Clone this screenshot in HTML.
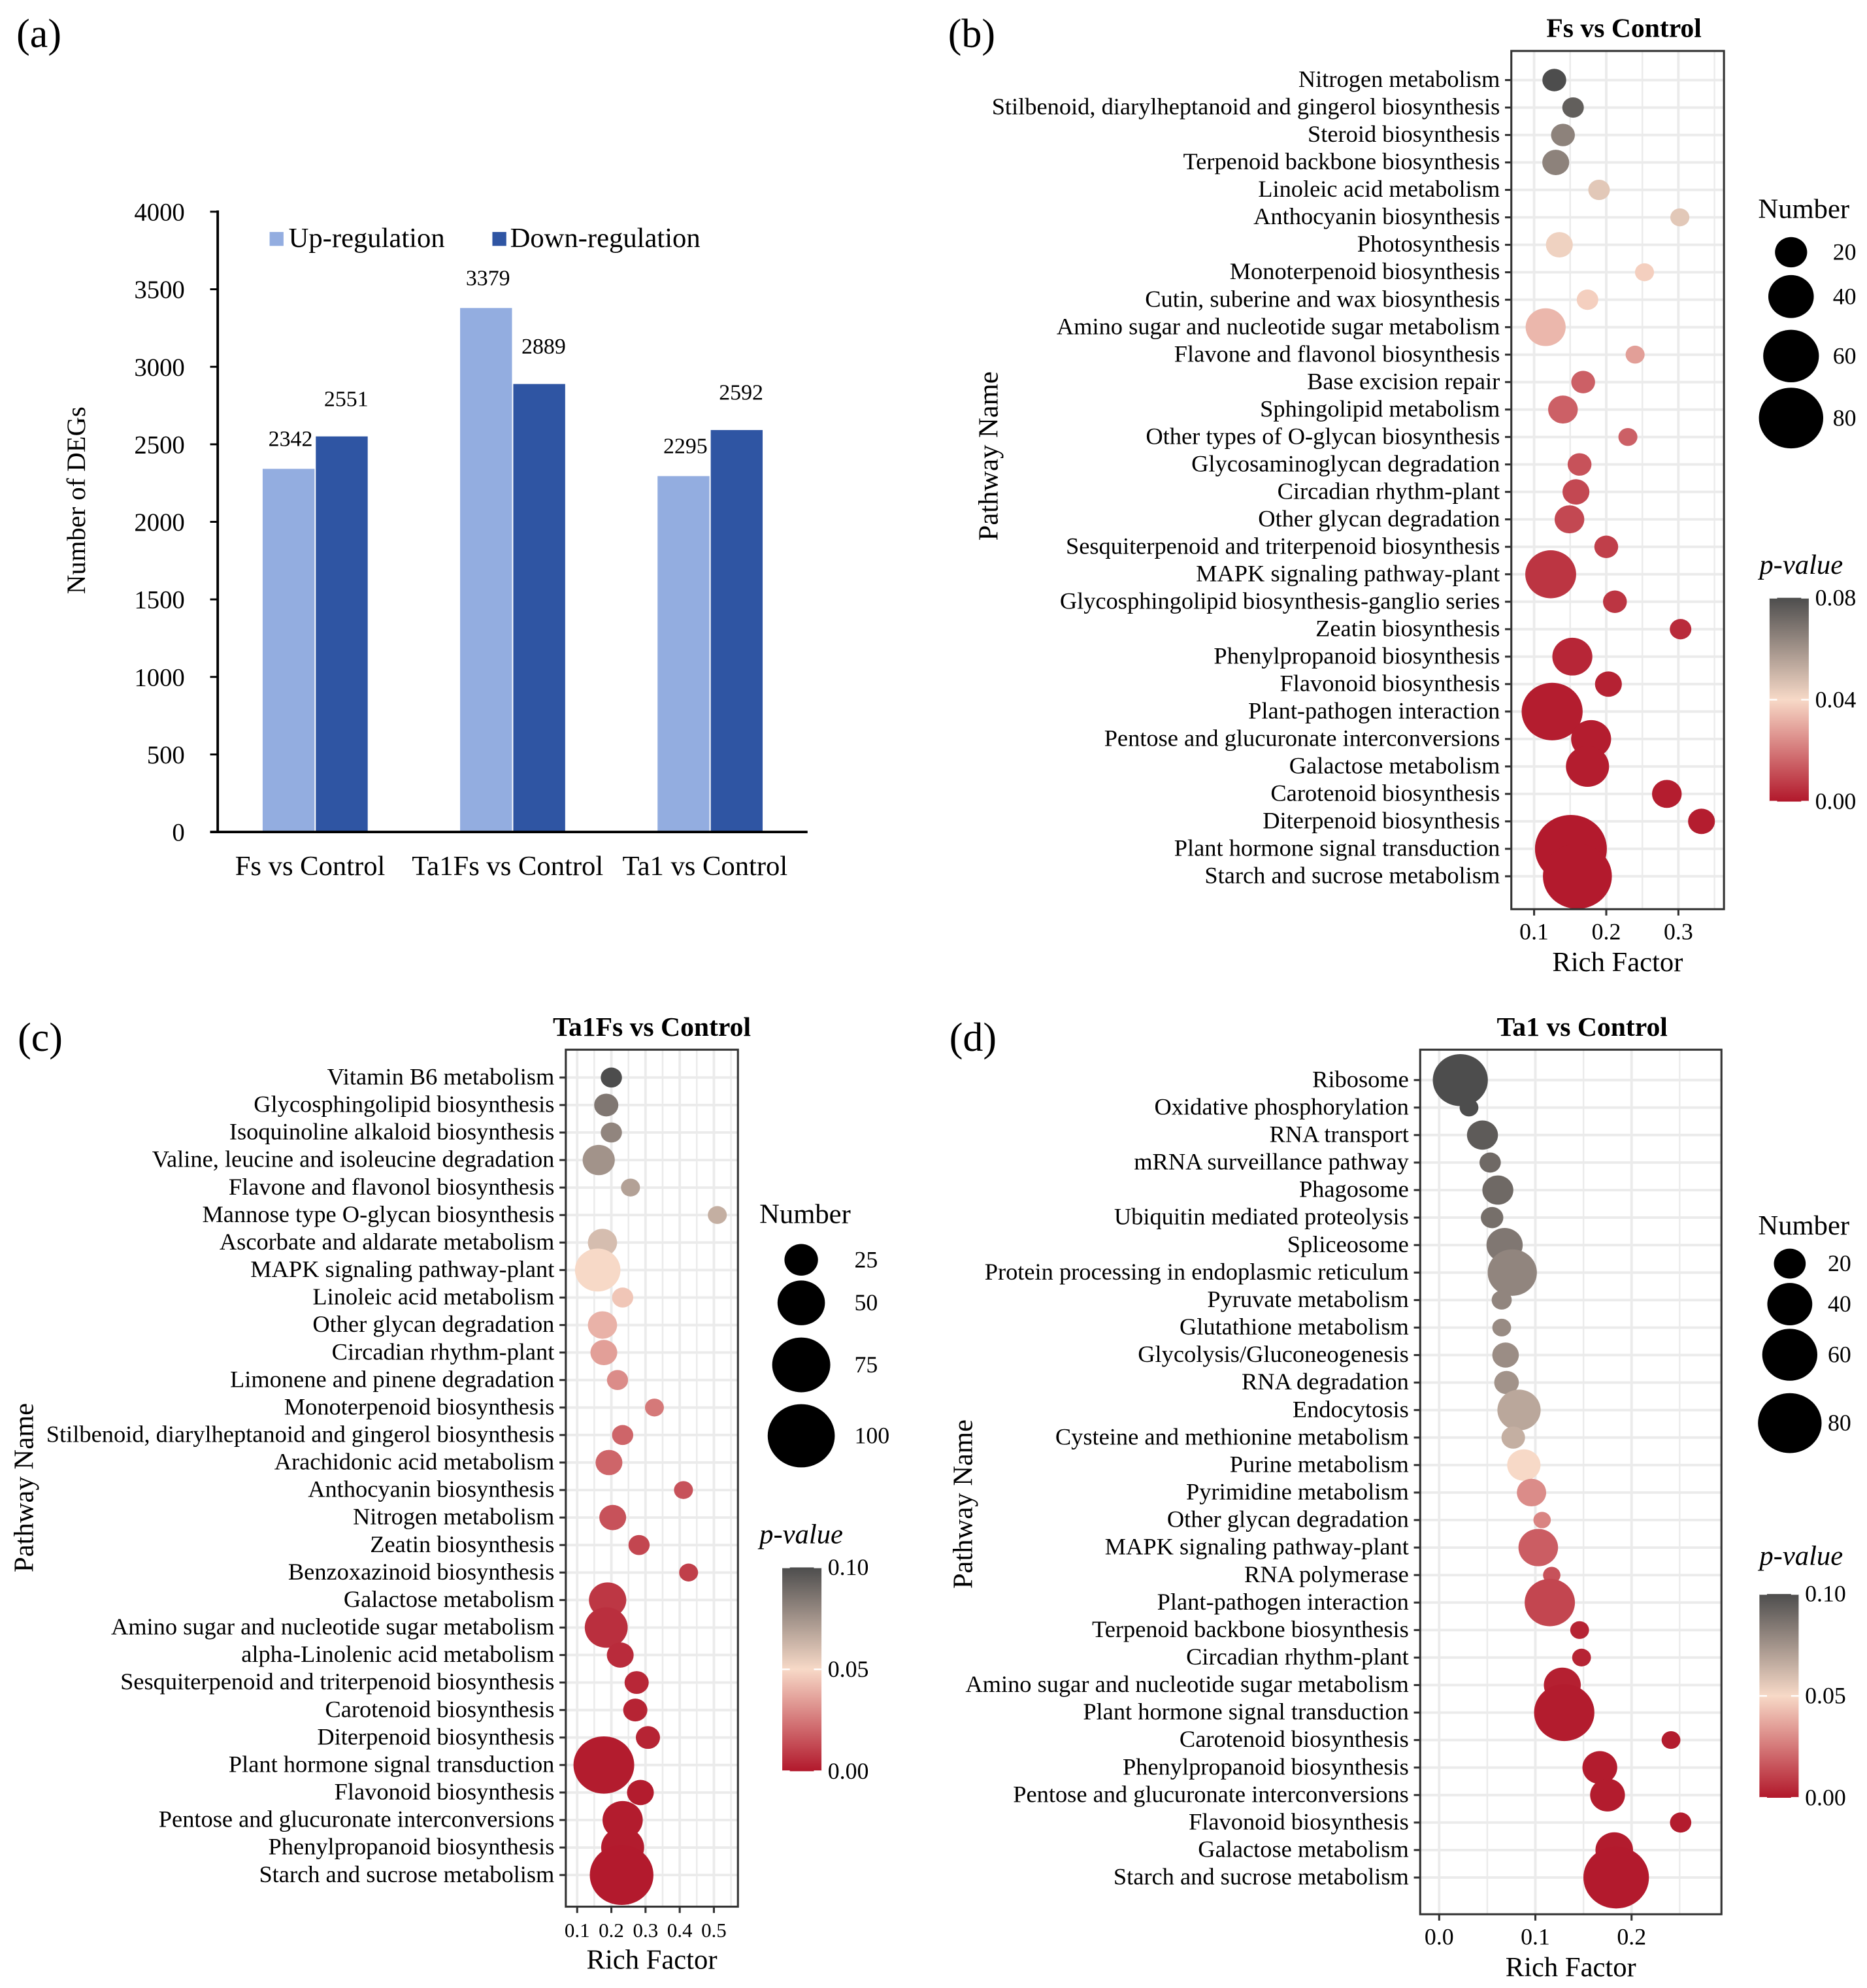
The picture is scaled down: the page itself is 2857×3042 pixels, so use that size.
<!DOCTYPE html>
<html><head><meta charset="utf-8"><style>
html,body{margin:0;padding:0;background:#fff;}
svg{display:block;font-family:"Liberation Serif","Times New Roman",serif;}
</style></head><body>
<svg id="fig" width="2857" height="3042" viewBox="0 0 1475 1570" xmlns="http://www.w3.org/2000/svg">
<rect x="0" y="0" width="1475" height="1570" fill="#fff"/>
<g id="pa"></g>
<g id="pb"></g>
<g id="pc"></g>
<g id="pd"></g>
</svg>
<script>
// ---------- Panel (a) data ----------
const aCategories = ["Fs vs Control", "Ta1Fs vs Control", "Ta1  vs Control"];
const aUp = [2342, 3379, 2295];
const aDown = [2551, 2889, 2592];
const aTicks = [0, 500, 1000, 1500, 2000, 2500, 3000, 3500, 4000];

// ---------- Panel (b) data ----------
const bNames = ["Nitrogen metabolism","Stilbenoid, diarylheptanoid and gingerol biosynthesis","Steroid biosynthesis","Terpenoid backbone biosynthesis","Linoleic acid metabolism","Anthocyanin biosynthesis","Photosynthesis","Monoterpenoid biosynthesis","Cutin, suberine and wax biosynthesis","Amino sugar and nucleotide sugar metabolism","Flavone and flavonol biosynthesis","Base excision repair","Sphingolipid metabolism","Other types of O-glycan biosynthesis","Glycosaminoglycan degradation","Circadian rhythm-plant","Other glycan degradation","Sesquiterpenoid and triterpenoid biosynthesis","MAPK signaling pathway-plant","Glycosphingolipid biosynthesis-ganglio series","Zeatin biosynthesis","Phenylpropanoid biosynthesis","Flavonoid biosynthesis","Plant-pathogen interaction","Pentose and glucuronate interconversions","Galactose metabolism","Carotenoid biosynthesis","Diterpenoid biosynthesis","Plant hormone signal transduction","Starch and sucrose metabolism"];
const bRich = [0.128,0.154,0.140,0.130,0.190,0.302,0.135,0.253,0.174,0.116,0.240,0.168,0.140,0.230,0.163,0.158,0.149,0.200,0.123,0.212,0.303,0.153,0.203,0.125,0.179,0.174,0.284,0.332,0.151,0.160];
const bCount = [11,9,11,14,9,7,14,7,9,31,7,11,17,7,11,14,17,11,50,11,9,31,14,72,31,36,17,14,100,92];
const bP = [0.080,0.075,0.065,0.065,0.045,0.045,0.042,0.038,0.038,0.033,0.028,0.015,0.015,0.015,0.012,0.010,0.010,0.008,0.006,0.006,0.004,0.003,0.002,0.001,0.001,0.001,0.001,0.001,0.0005,0.0005];
const bXTicks = [0.1, 0.2, 0.3];
const bSizeLegend = [20, 40, 60, 80];
const bColorTicks = [0.00, 0.04, 0.08];

// ---------- Panel (c) data ----------
const cNames = ["Vitamin B6 metabolism","Glycosphingolipid biosynthesis","Isoquinoline alkaloid biosynthesis","Valine, leucine and isoleucine degradation","Flavone and flavonol biosynthesis","Mannose type O-glycan biosynthesis","Ascorbate and aldarate metabolism","MAPK signaling pathway-plant","Linoleic acid metabolism","Other glycan degradation","Circadian rhythm-plant","Limonene and pinene degradation","Monoterpenoid biosynthesis","Stilbenoid, diarylheptanoid and gingerol biosynthesis","Arachidonic acid metabolism","Anthocyanin biosynthesis","Nitrogen metabolism","Zeatin biosynthesis","Benzoxazinoid biosynthesis","Galactose metabolism","Amino sugar and nucleotide sugar metabolism","alpha-Linolenic acid metabolism","Sesquiterpenoid and triterpenoid biosynthesis","Carotenoid biosynthesis","Diterpenoid biosynthesis","Plant hormone signal transduction","Flavonoid biosynthesis","Pentose and glucuronate interconversions","Phenylpropanoid biosynthesis","Starch and sucrose metabolism"];
const cRich = [0.200,0.185,0.200,0.163,0.256,0.510,0.174,0.160,0.233,0.174,0.178,0.218,0.326,0.233,0.193,0.411,0.204,0.281,0.426,0.189,0.185,0.226,0.274,0.270,0.307,0.178,0.285,0.233,0.233,0.230];
const cCount = [10,13,10,23,8,8,19,46,10,19,16,10,8,10,16,8,16,10,8,31,41,16,13,13,13,82,16,36,41,90];
const cP = [0.100,0.085,0.080,0.075,0.070,0.065,0.060,0.050,0.045,0.040,0.035,0.030,0.025,0.020,0.020,0.015,0.015,0.012,0.010,0.008,0.006,0.005,0.004,0.003,0.003,0.001,0.001,0.001,0.001,0.0005];
const cXTicks = [0.1, 0.2, 0.3, 0.4, 0.5];
const cSizeLegend = [25, 50, 75, 100];
const cColorTicks = [0.00, 0.05, 0.10];

// ---------- Panel (d) data ----------
const dNames = ["Ribosome","Oxidative phosphorylation","RNA transport","mRNA surveillance pathway","Phagosome","Ubiquitin mediated proteolysis","Spliceosome","Protein processing in endoplasmic reticulum","Pyruvate metabolism","Glutathione metabolism","Glycolysis/Gluconeogenesis","RNA degradation","Endocytosis","Cysteine and methionine metabolism","Purine metabolism","Pyrimidine metabolism","Other glycan degradation","MAPK signaling pathway-plant","RNA polymerase","Plant-pathogen interaction","Terpenoid backbone biosynthesis","Circadian rhythm-plant","Amino sugar and nucleotide sugar metabolism","Plant hormone signal transduction","Carotenoid biosynthesis","Phenylpropanoid biosynthesis","Pentose and glucuronate interconversions","Flavonoid biosynthesis","Galactose metabolism","Starch and sucrose metabolism"];
const dRich = [0.022,0.031,0.045,0.053,0.061,0.055,0.068,0.076,0.065,0.065,0.069,0.070,0.083,0.077,0.088,0.096,0.107,0.103,0.117,0.115,0.146,0.148,0.128,0.130,0.241,0.167,0.175,0.251,0.182,0.184];
const dCount = [60,7,19,9,19,10,26,48,8,7,14,12,37,11,22,17,6,31,6,50,7,7,27,72,7,24,24,9,28,85];
const dP = [0.100,0.100,0.095,0.090,0.090,0.088,0.085,0.080,0.080,0.078,0.077,0.075,0.068,0.065,0.050,0.030,0.028,0.018,0.015,0.012,0.003,0.003,0.002,0.001,0.001,0.001,0.001,0.001,0.001,0.0005];
const dXTicks = [0.0, 0.1, 0.2];
const dSizeLegend = [20, 40, 60, 80];
const dColorTicks = [0.00, 0.05, 0.10];

const NS = "http://www.w3.org/2000/svg";
function mk(parent, tag, attrs, text) {
  const e = document.createElementNS(NS, tag);
  for (const k in attrs) e.setAttribute(k, attrs[k]);
  if (text !== undefined) e.textContent = text;
  parent.appendChild(e);
  return e;
}
function lerp(a, b, t) { return a + (b - a) * t; }
function hex(c) { return [parseInt(c.slice(1,3),16), parseInt(c.slice(3,5),16), parseInt(c.slice(5,7),16)]; }
const cLow = hex("#b2182b"), cMid = hex("#f7d9c7"), cHigh = hex("#4d4d4d");
function pColor(p, max) {
  let t = Math.max(0, Math.min(1, p / max));
  let a, b, u;
  if (t < 0.5) { a = cLow; b = cMid; u = t / 0.5; } else { a = cMid; b = cHigh; u = (t - 0.5) / 0.5; }
  return "rgb(" + [0,1,2].map(i => Math.round(lerp(a[i], b[i], u))).join(",") + ")";
}

// ---------- Panel (a) ----------
(function () {
  const g = document.getElementById("pa");
  const x0 = 172, x1 = 638, yBase = 657, yTop = 167;
  const yS = v => yBase - (v / 4000) * (yBase - yTop);
  let t = mk(g, "text", {x: 13, y: 37, "font-size": 32}, "(a)");
  
  
  const centers = [249, 405, 561];
  const bw = 41;
  aCategories.forEach((c, i) => {
    const up = mk(g, "rect", {x: centers[i] - bw - 0.5, y: yS(aUp[i]), width: bw, height: yBase - yS(aUp[i]), fill: "#93ade0"});
    
    
    const dn = mk(g, "rect", {x: centers[i] + 0.5, y: yS(aDown[i]), width: bw, height: yBase - yS(aDown[i]), fill: "#2f55a3"});
    
    
    const l1 = mk(g, "text", {x: centers[i] - bw / 2 + 1, y: yS(aUp[i]) - 18, "font-size": 17.5, "text-anchor": "middle"}, aUp[i]);
    
    
    const l2 = mk(g, "text", {x: centers[i] + bw / 2 + 4, y: yS(aDown[i]) - 24, "font-size": 17.5, "text-anchor": "middle"}, aDown[i]);
    
    
    const cl = mk(g, "text", {x: centers[i] - 4, y: 691, "font-size": 22, "text-anchor": "middle"}, c);
    
    
  });
  mk(g, "line", {x1: x0, y1: yTop - 1, x2: x0, y2: yBase, stroke: "#000", "stroke-width": 2});
  mk(g, "line", {x1: x0 - 6, y1: yBase, x2: x1, y2: yBase, stroke: "#000", "stroke-width": 2});
  aTicks.forEach(v => {
    mk(g, "line", {x1: x0 - 6, y1: yS(v), x2: x0, y2: yS(v), stroke: "#000", "stroke-width": 1.5});
    const tl = mk(g, "text", {x: 146, y: yS(v) + 7, "font-size": 20, "text-anchor": "end"}, v);
    
    
  });
  const yt = mk(g, "text", {x: 0, y: 0, "font-size": 21, "text-anchor": "middle", transform: "translate(67,395) rotate(-90)"}, "Number of DEGs");
  
  
  const lg = mk(g, "g", {});
  
  
  mk(lg, "rect", {x: 213, y: 183, width: 11, height: 11, fill: "#93ade0"});
  mk(lg, "text", {x: 228, y: 195, "font-size": 22}, "Up-regulation");
  mk(lg, "rect", {x: 389, y: 183, width: 11, height: 11, fill: "#2f55a3"});
  mk(lg, "text", {x: 403, y: 195, "font-size": 22}, "Down-regulation");
})();

// ---------- bubble panels ----------
function bubblePanel(cfg) {
  const g = document.getElementById(cfg.id);
  const xS = v => cfg.x0px + (v - cfg.x0v) * cfg.pxPer;
  const n = cfg.names.length;
  const yS = i => cfg.rowTop + i * (cfg.rowBot - cfg.rowTop) / (n - 1);
  const rS = c => cfg.k * Math.sqrt(c);
  let pl = mk(g, "text", {x: cfg.labelPos[0], y: cfg.labelPos[1], "font-size": 32}, cfg.panelLabel);
  
  
  const tt = mk(g, "text", {x: (cfg.bx0 + cfg.bx1) / 2 + cfg.titleDx, y: cfg.by0 - 11, "font-size": 21.5, "font-weight": "bold", "text-anchor": "middle"}, cfg.title);
  
  
  mk(g, "rect", {x: cfg.bx0, y: cfg.by0, width: cfg.bx1 - cfg.bx0, height: cfg.by1 - cfg.by0, fill: "#fff"});
  cfg.xTicks.forEach(v => {
    [v - cfg.step / 2, v + cfg.step / 2].forEach(mv => {
      const px = xS(mv);
      if (px > cfg.bx0 + 1 && px < cfg.bx1 - 1) mk(g, "line", {x1: px, y1: cfg.by0, x2: px, y2: cfg.by1, stroke: "#ebebeb", "stroke-width": 1.2});
    });
  });
  cfg.xTicks.forEach(v => {
    mk(g, "line", {x1: xS(v), y1: cfg.by0, x2: xS(v), y2: cfg.by1, stroke: "#ebebeb", "stroke-width": 2});
  });
  cfg.names.forEach((nm, i) => {
    mk(g, "line", {x1: cfg.bx0, y1: yS(i), x2: cfg.bx1, y2: yS(i), stroke: "#ebebeb", "stroke-width": 2});
  });
  cfg.names.forEach((nm, i) => {
    const c = mk(g, "ellipse", {cx: xS(cfg.rich[i]), cy: yS(i), rx: rS(cfg.count[i]) * 1.06, ry: rS(cfg.count[i]), fill: pColor(cfg.p[i], cfg.pMax)});
    
    
  });
  mk(g, "rect", {x: cfg.bx0, y: cfg.by0, width: cfg.bx1 - cfg.bx0, height: cfg.by1 - cfg.by0, fill: "none", stroke: "#333", "stroke-width": 1.6});
  cfg.names.forEach((nm, i) => {
    mk(g, "line", {x1: cfg.bx0 - 5, y1: yS(i), x2: cfg.bx0, y2: yS(i), stroke: "#333", "stroke-width": 1.6});
    const l = mk(g, "text", {x: cfg.bx0 - 9, y: yS(i) + 5.5, "font-size": 18.8, "text-anchor": "end"}, nm);
    
    
  });
  cfg.xTicks.forEach(v => {
    mk(g, "line", {x1: xS(v), y1: cfg.by1, x2: xS(v), y2: cfg.by1 + 5, stroke: "#333", "stroke-width": 1.6});
    const l = mk(g, "text", {x: xS(v), y: cfg.by1 + 24, "font-size": cfg.tickFont, "text-anchor": "middle"}, v.toFixed(1));
    
    
  });
  const xt = mk(g, "text", {x: (cfg.bx0 + cfg.bx1) / 2, y: cfg.by1 + 49, "font-size": 22, "text-anchor": "middle"}, "Rich Factor");
  
  
  const yt = mk(g, "text", {x: 0, y: 0, "font-size": 22, "text-anchor": "middle", transform: "translate(" + cfg.yTitle[0] + "," + cfg.yTitle[1] + ") rotate(-90)"}, "Pathway Name");
  
  
  const sl = mk(g, "g", {});
  
  
  mk(sl, "text", {x: cfg.sizeTitle[0], y: cfg.sizeTitle[1], "font-size": 22}, "Number");
  cfg.sizeLegend.forEach((v, i) => {
    mk(sl, "ellipse", {cx: cfg.sizeX, cy: cfg.sizeYs[i], rx: rS(v) * 1.06, ry: rS(v), fill: "#000"});
    mk(sl, "text", {x: cfg.sizeLabelX, y: cfg.sizeYs[i] + 6, "font-size": 18.5}, v);
  });
  const cl = mk(g, "g", {});
  
  
  mk(cl, "text", {x: cfg.colTitle[0], y: cfg.colTitle[1], "font-size": 22, "font-style": "italic"}, "p-value");
  const gid = "grad" + cfg.id;
  const defs = mk(cl, "defs", {});
  const lg = mk(defs, "linearGradient", {id: gid, x1: 0, y1: 1, x2: 0, y2: 0});
  mk(lg, "stop", {offset: "0", "stop-color": "#b2182b"});
  mk(lg, "stop", {offset: "0.5", "stop-color": "#f7d9c7"});
  mk(lg, "stop", {offset: "1", "stop-color": "#4d4d4d"});
  const cb = cfg.colBar;
  mk(cl, "rect", {x: cb[0], y: cb[1], width: cb[2], height: cb[3] - cb[1], fill: "url(#" + gid + ")"});
  cfg.colorTicks.forEach(v => {
    const y = cb[3] - (v / cfg.pMax) * (cb[3] - cb[1]);
    mk(cl, "line", {x1: cb[0], y1: y, x2: cb[0] + 6, y2: y, stroke: "#fff", "stroke-width": 1.2});
    mk(cl, "line", {x1: cb[0] + cb[2] - 6, y1: y, x2: cb[0] + cb[2], y2: y, stroke: "#fff", "stroke-width": 1.2});
    mk(cl, "text", {x: cb[0] + cb[2] + 5, y: y + 6, "font-size": 18.5}, v.toFixed(2));
  });
}

bubblePanel({id: "pb", panelLabel: "(b)", labelPos: [749, 37], title: "Fs vs Control", titleDx: 5,
  names: bNames, rich: bRich, count: bCount, p: bP, pMax: 0.08, xTicks: bXTicks, step: 0.1,
  bx0: 1194, bx1: 1362, by0: 40, by1: 718, rowTop: 63, rowBot: 692,
  x0px: 1212, x0v: 0.1, pxPer: 570, k: 2.68, tickFont: 18.5, yTitle: [788, 360],
  sizeTitle: [1389, 172], sizeLegend: bSizeLegend, sizeX: 1415, sizeYs: [199, 234, 281, 330], sizeLabelX: 1448,
  colTitle: [1390, 453], colBar: [1398, 472, 31, 633], colorTicks: bColorTicks});

bubblePanel({id: "pc", panelLabel: "(c)", labelPos: [14, 830], title: "Ta1Fs vs Control", titleDx: 0,
  names: cNames, rich: cRich, count: cCount, p: cP, pMax: 0.10, xTicks: cXTicks, step: 0.1,
  bx0: 447, bx1: 583, by0: 829, by1: 1506, rowTop: 851, rowBot: 1481,
  x0px: 456, x0v: 0.1, pxPer: 270, k: 2.5, tickFont: 16, yTitle: [26, 1175],
  sizeTitle: [600, 966], sizeLegend: cSizeLegend, sizeX: 633, sizeYs: [995, 1029, 1078, 1134], sizeLabelX: 675,
  colTitle: [600, 1219], colBar: [618, 1238, 31, 1399], colorTicks: cColorTicks});

bubblePanel({id: "pd", panelLabel: "(d)", labelPos: [750, 830], title: "Ta1 vs Control", titleDx: 9,
  names: dNames, rich: dRich, count: dCount, p: dP, pMax: 0.10, xTicks: dXTicks, step: 0.1,
  bx0: 1122, bx1: 1360, by0: 829, by1: 1512, rowTop: 853, rowBot: 1483,
  x0px: 1137, x0v: 0.0, pxPer: 760, k: 2.65, tickFont: 18.5, yTitle: [768, 1188],
  sizeTitle: [1389, 975], sizeLegend: dSizeLegend, sizeX: 1414, sizeYs: [998, 1030, 1070, 1124], sizeLabelX: 1444,
  colTitle: [1390, 1236], colBar: [1390, 1259, 31, 1420], colorTicks: dColorTicks});
</script>
</body></html>
